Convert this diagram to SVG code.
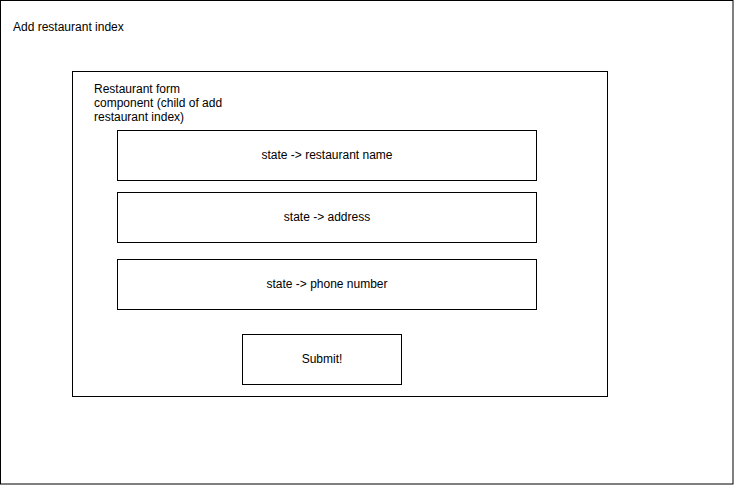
<svg xmlns="http://www.w3.org/2000/svg" width="734" height="485" viewBox="0 0 734 485">
<style>
.box{fill:#fff;stroke:#000;stroke-width:1}
text{font-family:"Liberation Sans",Arial,Helvetica,sans-serif;font-size:12px;fill:#000}
.c{text-anchor:middle}
</style>
<rect width="734" height="485" fill="#fff"/>
<g id="add-restaurant-index">
<rect class="box" x="0.5" y="0.5" width="732.5" height="483.5"/>
<text x="13" y="31">Add restaurant index</text>
</g>
<g id="restaurant-form">
<rect class="box" x="72.5" y="71.5" width="535" height="325"/>
<text x="94" y="93">Restaurant form</text>
<text x="94" y="107">component (child of add</text>
<text x="94" y="121">restaurant index)</text>
</g>
<g id="state-name">
<rect class="box" x="117.5" y="130.5" width="419" height="50"/>
<text class="c" x="327" y="159">state -&gt; restaurant name</text>
</g>
<g id="state-address">
<rect class="box" x="117.5" y="192.5" width="419" height="50"/>
<text class="c" x="327" y="221">state -&gt; address</text>
</g>
<g id="state-phone">
<rect class="box" x="117.5" y="259.5" width="419" height="50"/>
<text class="c" x="327" y="288">state -&gt; phone number</text>
</g>
<g id="submit">
<rect class="box" x="242.5" y="334.5" width="159" height="50"/>
<text class="c" x="322" y="363">Submit!</text>
</g>
<g id="connectors"></g>
</svg>
